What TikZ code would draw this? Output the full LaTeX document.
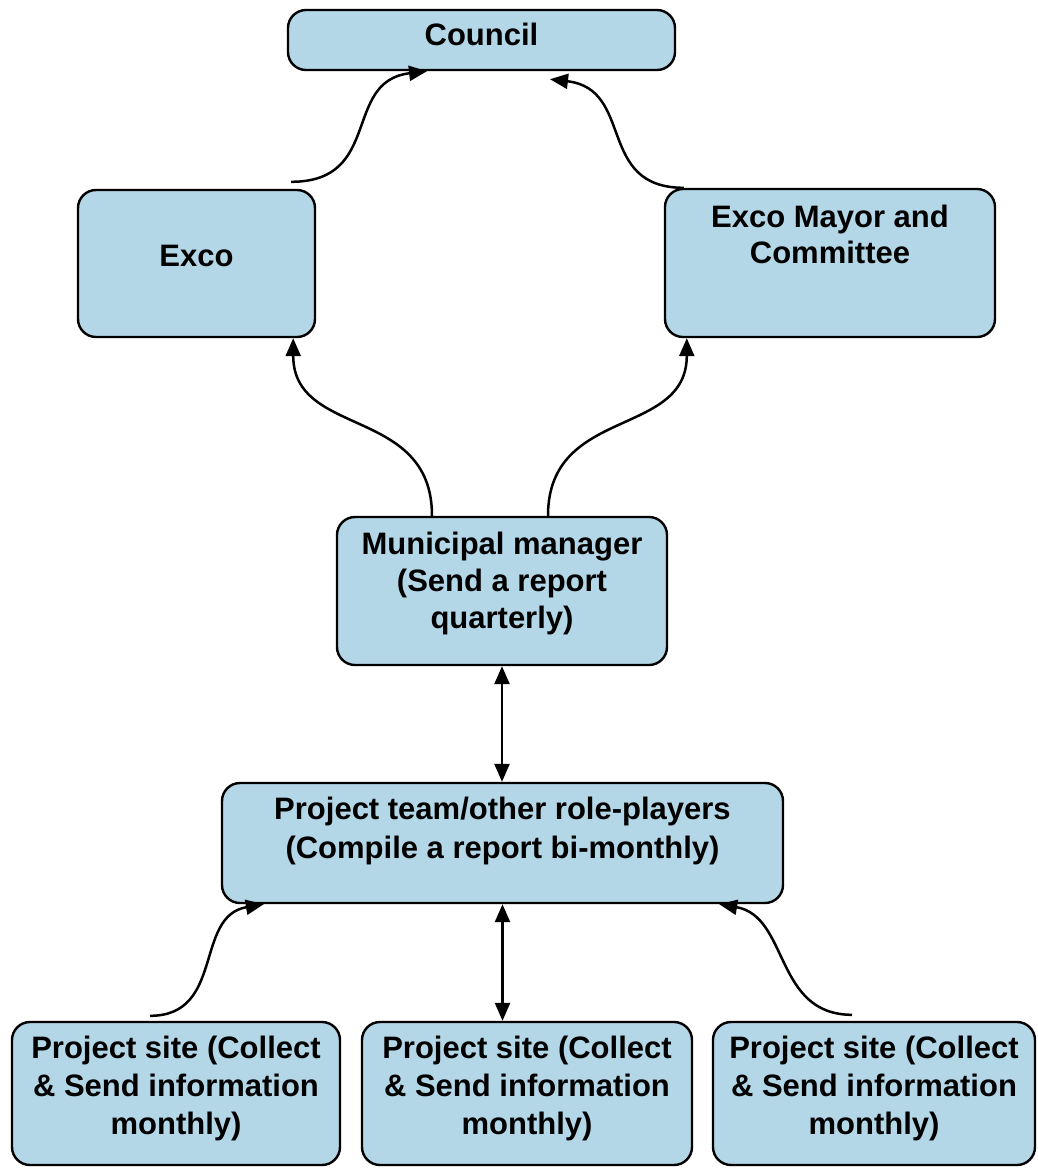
\documentclass[tikz,border=0pt]{standalone}
\usepackage{fontspec}
\setmainfont{Liberation Sans}
\usetikzlibrary{arrows.meta}
\definecolor{boxblue}{RGB}{180,215,232}
% fixed-size text block: width, height, first baseline from top, lines
\newcommand{\bxt}[4]{\parbox[c][#2][t]{#1}{\centering\rule{0pt}{#3}#4}}
\begin{document}
\begin{tikzpicture}[x=1pt,y=-1pt,
  box/.style={draw=black, line width=2.4pt, fill=boxblue, rounded corners=18pt,
    inner sep=0pt, font=\bfseries\fontsize{31}{38}\selectfont},
  link/.style={line width=2.5pt, -{Triangle[length=18pt,width=15pt]}},
  twoway/.style={line width=2.5pt, {Triangle[length=18pt,width=15pt]}-{Triangle[length=18pt,width=15pt]}}]
\useasboundingbox (0,0) rectangle (1038,1168);

% boxes
\node[box] (council) at (481.5,40) {\bxt{387pt}{60pt}{35pt}{Council}};
\node[box] (exco) at (196.5,263.5) {\bxt{237pt}{147pt}{76pt}{Exco}};
\node[box] (mayor) at (830,263) {\bxt{330pt}{148pt}{38pt}{Exco Mayor and\\[-2pt]Committee}};
\node[box] (mm) at (502,591) {\bxt{330pt}{148pt}{37pt}{Municipal manager\\[-1pt](Send a report\\[-1pt]quarterly)}};
\node[box] (pt) at (502.5,843) {\bxt{561pt}{120pt}{36pt}{Project team/other role-players\\[1pt](Compile a report bi-monthly)}};
\node[box] (site1) at (176,1093.5) {\bxt{328pt}{143pt}{36pt}{Project site (Collect\\\& Send information\\monthly)}};
\node[box] (site2) at (527,1093.5) {\bxt{330pt}{143pt}{36pt}{Project site (Collect\\\& Send information\\monthly)}};
\node[box] (site3) at (874,1093.5) {\bxt{322pt}{143pt}{36pt}{Project site (Collect\\\& Send information\\monthly)}};

% reporting lines
\draw[link] ([xshift=-25pt,yshift=7pt]exco.north east) .. controls +(92,0) and +(-85,10) .. ([xshift=-54.5pt]council.south);
\draw[link] ([xshift=20pt]mayor.north west) .. controls +(-88,0) and +(85,10) .. ([xshift=68.5pt,yshift=-8pt]council.south);
\draw[link] ([xshift=-70pt]mm.north) .. controls +(0,-110) and +(0,100) .. ([xshift=-23pt]exco.south east);
\draw[link] ([xshift=46pt]mm.north) .. controls +(0,-110) and +(0,100) .. ([xshift=23pt]mayor.south west);
\draw[twoway] (mm.south) -- (mm.south |- pt.north);
\draw[link] ([xshift=-26pt,yshift=5pt]site1.north) .. controls +(75,0) and +(-70,12) .. ([xshift=43pt]pt.south west);
\draw[twoway] (pt.south) -- (pt.south |- site2.north);
\draw[link] ([xshift=-22pt,yshift=6pt]site3.north) .. controls +(-78,0) and +(70,12) .. ([xshift=-65pt]pt.south east);
\end{tikzpicture}
\end{document}
